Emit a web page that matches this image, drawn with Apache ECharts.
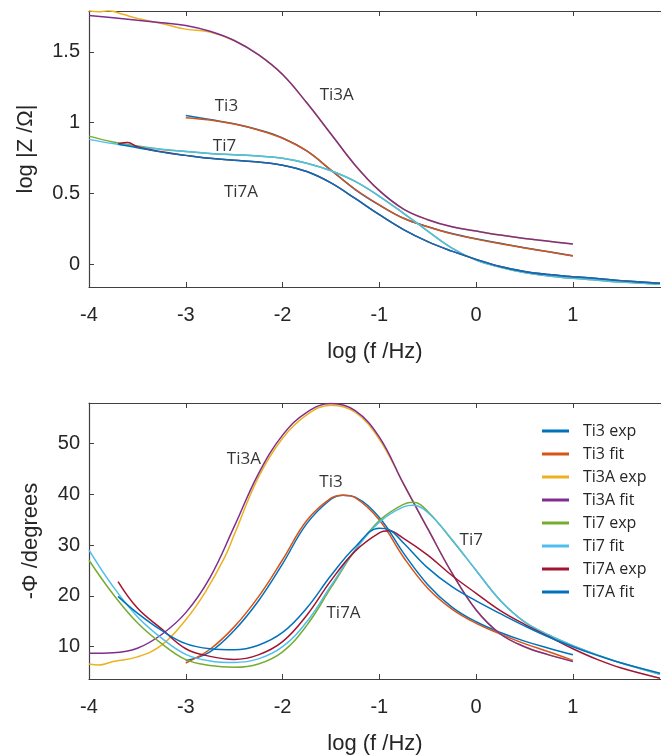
<!DOCTYPE html>
<html>
<head>
<meta charset="utf-8">
<script src="https://cdn.jsdelivr.net/npm/echarts@6/dist/echarts.min.js"></script>
<style>
html, body { margin: 0; padding: 0; background: #fff; }
#impCharts { width: 661px; height: 756px; }
</style>
</head>
<body>
<div id="impCharts"></div>
<script>
// tick labels
const xTicks = [-4, -3, -2, -1, 0, 1];
const magTicks = [0, 0.5, 1, 1.5];
const phaseTicks = [10, 20, 30, 40, 50];

const seriesNames = ['Ti3 exp', 'Ti3 fit', 'Ti3A exp', 'Ti3A fit', 'Ti7 exp', 'Ti7 fit', 'Ti7A exp', 'Ti7A fit'];

// log|Z| vs log f  ([log f, log |Z|])
const magTi3Exp = [[-3,1.051],[-2.75,1.022],[-2.5,0.992],[-2.25,0.95],[-2,0.892],[-1.75,0.80],[-1.5,0.665],[-1.25,0.528],[-1,0.418],[-0.75,0.325],[-0.5,0.265],[-0.25,0.217],[0,0.18],[0.25,0.148],[0.5,0.117],[0.75,0.089],[1,0.06]];
const magTi3Fit = [[-3,1.035],[-2.75,1.018],[-2.5,0.99],[-2.25,0.948],[-2,0.89],[-1.75,0.80],[-1.5,0.665],[-1.25,0.53],[-1,0.42],[-0.75,0.325],[-0.5,0.265],[-0.25,0.215],[0,0.178],[0.25,0.146],[0.5,0.116],[0.75,0.088],[1,0.059]];
const magTi3AExp = [[-4,1.79],[-3.9,1.782],[-3.8,1.79],[-3.65,1.765],[-3.5,1.735],[-3.25,1.70],[-3,1.66],[-2.75,1.64],[-2.5,1.58],[-2.25,1.48],[-2,1.34],[-1.75,1.14],[-1.5,0.92],[-1.25,0.70],[-1,0.52],[-0.75,0.39],[-0.5,0.315],[-0.25,0.265],[0,0.235],[0.25,0.207],[0.5,0.183],[0.75,0.163],[1,0.143]];
const magTi3AFit = [[-4,1.756],[-3.75,1.74],[-3.5,1.722],[-3.25,1.705],[-3,1.686],[-2.75,1.645],[-2.5,1.58],[-2.25,1.48],[-2,1.34],[-1.75,1.14],[-1.5,0.92],[-1.25,0.70],[-1,0.52],[-0.75,0.39],[-0.5,0.315],[-0.25,0.265],[0,0.235],[0.25,0.207],[0.5,0.183],[0.75,0.163],[1,0.143]];
const magTi7Exp = [[-4,0.905],[-3.75,0.863],[-3.5,0.835],[-3.25,0.811],[-3,0.797],[-2.75,0.783],[-2.5,0.774],[-2.25,0.764],[-2,0.748],[-1.75,0.713],[-1.5,0.66],[-1.25,0.585],[-1,0.48],[-0.75,0.36],[-0.5,0.235],[-0.25,0.115],[0,0.03],[0.25,-0.02],[0.5,-0.058],[0.75,-0.082],[1,-0.099],[1.25,-0.112],[1.5,-0.125],[1.9,-0.141]];
const magTi7Fit = [[-4,0.882],[-3.75,0.852],[-3.5,0.83],[-3.25,0.812],[-3,0.797],[-2.75,0.783],[-2.5,0.774],[-2.25,0.764],[-2,0.748],[-1.75,0.713],[-1.5,0.66],[-1.25,0.585],[-1,0.48],[-0.75,0.36],[-0.5,0.235],[-0.25,0.115],[0,0.03],[0.25,-0.02],[0.5,-0.058],[0.75,-0.082],[1,-0.099],[1.25,-0.112],[1.5,-0.125],[1.9,-0.141]];
const magTi7AExp = [[-3.7,0.851],[-3.6,0.86],[-3.5,0.83],[-3.25,0.794],[-3,0.769],[-2.75,0.748],[-2.5,0.734],[-2.25,0.722],[-2,0.70],[-1.75,0.655],[-1.5,0.575],[-1.25,0.465],[-1,0.35],[-0.75,0.245],[-0.5,0.16],[-0.25,0.093],[0,0.035],[0.25,-0.015],[0.5,-0.05],[0.75,-0.072],[1,-0.087],[1.25,-0.10],[1.5,-0.115],[1.9,-0.134]];
const magTi7AFit = [[-3.7,0.848],[-3.5,0.823],[-3.25,0.792],[-3,0.769],[-2.75,0.748],[-2.5,0.734],[-2.25,0.722],[-2,0.70],[-1.75,0.655],[-1.5,0.575],[-1.25,0.465],[-1,0.35],[-0.75,0.245],[-0.5,0.16],[-0.25,0.093],[0,0.035],[0.25,-0.015],[0.5,-0.05],[0.75,-0.072],[1,-0.087],[1.25,-0.10],[1.5,-0.115],[1.9,-0.134]];

// -phase vs log f  ([log f, degrees])
const phaseTi3Exp = [[-3,7.25],[-2.75,9.0],[-2.5,13.2],[-2.25,19.0],[-2,26.3],[-1.75,34.2],[-1.5,39.0],[-1.375,39.8],[-1.25,39.4],[-1,35.4],[-0.75,28.4],[-0.5,22.2],[-0.25,17.8],[0,14.9],[0.25,12.8],[0.5,11.1],[0.75,9.7],[1,8.4]];
const phaseTi3Fit = [[-3,6.8],[-2.75,9.5],[-2.5,13.9],[-2.25,19.8],[-2,27.1],[-1.75,34.8],[-1.5,39.2],[-1.375,39.8],[-1.25,39.3],[-1,34.9],[-0.75,27.6],[-0.5,21.5],[-0.25,17.4],[0,14.6],[0.25,12.5],[0.5,10.6],[0.75,9.0],[1,7.3]];
const phaseTi3AExp = [[-4,6.6],[-3.9,6.4],[-3.75,7.1],[-3.5,8.0],[-3.25,10.3],[-3,15.3],[-2.8,20.7],[-2.6,27.5],[-2.5,32.0],[-2.25,43.3],[-2,51.0],[-1.75,55.6],[-1.5,57.5],[-1.25,56.1],[-1,50.8],[-0.75,42.0],[-0.5,33.2],[-0.25,24.5],[0,17.2],[0.25,12.5],[0.5,10.0],[0.75,8.4],[1,7.2]];
const phaseTi3AFit = [[-4,8.7],[-3.75,8.8],[-3.5,9.7],[-3.25,12.4],[-3,16.7],[-2.75,23.6],[-2.5,33.6],[-2.25,44.0],[-2,51.6],[-1.75,56.1],[-1.5,57.8],[-1.25,56.4],[-1,51.2],[-0.75,42.0],[-0.5,33.2],[-0.25,24.5],[0,17.2],[0.25,12.5],[0.5,10.0],[0.75,8.4],[1,7.1]];
const phaseTi7Exp = [[-4,27.0],[-3.75,20.3],[-3.5,14.7],[-3.25,10.6],[-3,7.45],[-2.75,6.3],[-2.5,5.95],[-2.25,6.6],[-2,9.0],[-1.75,14.2],[-1.5,21.6],[-1.25,29.0],[-1,34.8],[-0.75,38.0],[-0.65,38.4],[-0.5,36.6],[-0.25,31.0],[0,25.0],[0.25,19.1],[0.5,14.9],[0.75,12.3],[1,10.2],[1.25,8.4],[1.5,6.8],[1.9,4.6]];
const phaseTi7Fit = [[-4,29.0],[-3.75,21.8],[-3.5,15.9],[-3.25,11.7],[-3,8.5],[-2.75,7.2],[-2.5,6.9],[-2.25,7.6],[-2,10.0],[-1.75,14.9],[-1.5,22.0],[-1.25,29.0],[-1,34.5],[-0.75,37.5],[-0.65,37.8],[-0.5,36.4],[-0.25,31.1],[0,25.0],[0.25,19.1],[0.5,14.9],[0.75,12.3],[1,10.2],[1.25,8.4],[1.5,6.8],[1.9,4.6]];
const phaseTi7AExp = [[-3.7,22.8],[-3.5,17.6],[-3.25,13.5],[-3,9.6],[-2.75,8.1],[-2.5,7.5],[-2.25,8.4],[-2,11.0],[-1.75,16.2],[-1.5,23.0],[-1.25,28.8],[-1,32.4],[-0.9,32.8],[-0.75,31.3],[-0.5,28.0],[-0.25,24.0],[0,20.5],[0.25,17.1],[0.5,14.4],[0.75,12.0],[1,9.6],[1.25,7.5],[1.5,5.8],[1.9,3.8]];
const phaseTi7AFit = [[-3.7,19.9],[-3.5,16.6],[-3.25,13.2],[-3,10.6],[-2.75,9.6],[-2.5,9.4],[-2.25,10.3],[-2,12.8],[-1.75,17.6],[-1.5,24.0],[-1.25,29.6],[-1,33.3],[-0.9,33.0],[-0.75,30.4],[-0.5,25.5],[-0.25,21.8],[0,19.0],[0.25,16.5],[0.5,14.1],[0.75,11.9],[1,10.0],[1.25,8.3],[1.5,6.8],[1.9,4.8]];

// curve labels written in the plots ([text, log f, value])
const magLabels = [['Ti3A', -1.44, 1.195], ['Ti3', -2.58, 1.118], ['Ti7', -2.60, 0.836], ['Ti7A', -2.43, 0.507]];
const phaseLabels = [['Ti3A', -2.40, 46.8], ['Ti3', -1.50, 42.4], ['Ti7', -0.05, 31.0], ['Ti7A', -1.37, 16.6]];

const magData = [magTi3Exp, magTi3Fit, magTi3AExp, magTi3AFit, magTi7Exp, magTi7Fit, magTi7AExp, magTi7AFit];
const phaseData = [phaseTi3Exp, phaseTi3Fit, phaseTi3AExp, phaseTi3AFit, phaseTi7Exp, phaseTi7Fit, phaseTi7AExp, phaseTi7AFit];

const color = ['#0072BD', '#D95319', '#EDB120', '#7E2F8E', '#77AC30', '#4DBEEE', '#A2142F', '#0072BD'];
const axisColor = '#404040';
const textColor = '#262626';
const tickFont = 'Liberation Sans, Arial, sans-serif';
const noteFont = 'Open Sans, sans-serif';

let chart = echarts.init(document.getElementById('impCharts'));

function curve(name, data, i, g){
    return {
        name: name,
        type: 'line',
        xAxisIndex: g * 2,
        yAxisIndex: g,
        data: data,
        smooth: 0.4,
        symbol: 'none',
        silent: true,
        lineStyle: { color: color[i], width: 1.5 },
        itemStyle: { color: color[i] }
    };
}

function notes(list, g){
    return {
        type: 'scatter',
        xAxisIndex: g * 2,
        yAxisIndex: g,
        symbolSize: 0,
        silent: true,
        data: list.map(l => ({ name: l[0], value: [l[1], l[2]] })),
        label: {
            show: true,
            position: 'inside',
            formatter: '{b}',
            color: '#000',
            fontSize: 17,
            fontFamily: noteFont
        }
    };
}

function bottomX(g){
    return {
        type: 'value', gridIndex: g, min: -4, max: 1.91, position: 'bottom',
        name: 'log (f /Hz)', nameLocation: 'middle', nameGap: 54,
        nameTextStyle: { fontSize: 22, color: textColor, fontFamily: tickFont },
        axisLine: { show: true, onZero: false, lineStyle: { color: axisColor, width: 1.2 } },
        axisTick: { show: true, inside: true, length: 5, customValues: xTicks, lineStyle: { color: axisColor } },
        axisLabel: { customValues: xTicks, margin: 18, fontSize: 20, color: textColor, fontFamily: tickFont },
        splitLine: { show: false }
    };
}

function topX(g){
    return {
        type: 'value', gridIndex: g, min: -4, max: 1.91, position: 'top',
        axisLine: { show: true, onZero: false, lineStyle: { color: axisColor, width: 1.2 } },
        axisTick: { show: true, inside: true, length: 5, customValues: xTicks, lineStyle: { color: axisColor } },
        axisLabel: { show: false },
        splitLine: { show: false }
    };
}

function leftY(g, min, max, ticks, name, gap){
    return {
        type: 'value', gridIndex: g, min: min, max: max, position: 'left',
        name: name, nameLocation: 'middle', nameGap: gap, nameRotate: 90,
        nameTextStyle: { fontSize: 22, color: textColor, fontFamily: tickFont },
        axisLine: { show: true, onZero: false, lineStyle: { color: axisColor, width: 1.2 } },
        axisTick: { show: true, inside: true, length: 5, customValues: ticks, lineStyle: { color: axisColor } },
        axisLabel: { customValues: ticks, margin: 9, fontSize: 20, color: textColor, fontFamily: tickFont },
        splitLine: { show: false }
    };
}

let series = [];
seriesNames.forEach((n, i) => series.push(curve(n, magData[i], i, 0)));
seriesNames.forEach((n, i) => series.push(curve(n, phaseData[i], i, 1)));
series.push(notes(magLabels, 0));
series.push(notes(phaseLabels, 1));

let options = {
    backgroundColor: '#fff',
    animation: false,
    grid: [
        { left: 89, right: 0, top: 11, bottom: 469, outerBoundsMode: 'none' },
        { left: 89, right: 0, top: 403, bottom: 77, outerBoundsMode: 'none' }
    ],
    legend: {
        data: seriesNames,
        orient: 'vertical',
        left: 542,
        top: 423,
        padding: 0,
        icon: 'rect',
        itemWidth: 27,
        itemHeight: 3,
        itemGap: 7,
        selectedMode: false,
        textStyle: { fontSize: 16, lineHeight: 16, padding: [0, 0, 0, 9], color: textColor, fontFamily: noteFont }
    },
    xAxis: [bottomX(0), topX(0), bottomX(1), topX(1)],
    yAxis: [
        leftY(0, -0.16, 1.788, magTicks, 'log |Z /\u03A9|', 52),
        leftY(1, 3.65, 57.92, phaseTicks, '-\u03A6 /degrees', 47)
    ],
    series: series
};

chart.setOption(options);
</script>
</body>
</html>
